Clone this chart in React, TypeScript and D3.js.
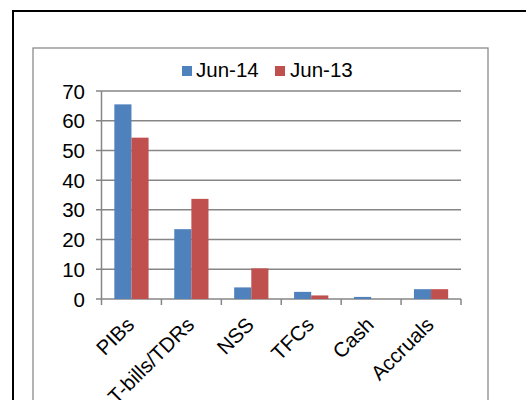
import React from "react";
import * as d3 from "d3";

const categories = ["PIBs", "T-bills/TDRs", "NSS", "TFCs", "Cash", "Accruals"];
const jun14 = [65.5, 23.5, 3.9, 2.4, 0.7, 3.3];
const jun13 = [54.3, 33.7, 10.3, 1.2, 0, 3.3];
const seriesNames = ["Jun-14", "Jun-13"];
const yTicks = [0, 10, 20, 30, 40, 50, 60, 70];

const colors = ["#4F81BD", "#C0504D"];
const FONT = "'Liberation Sans', Arial, sans-serif";

export default function App() {
  const W = 526, H = 400;
  const x = d3.scaleBand<string>().domain(categories).range([101.5, 461]).padding(0);
  const y = d3.scaleLinear().domain([0, 70]).range([299, 91]);
  const bw = x.bandwidth() / 3.5;
  const series = [jun14, jun13];
  const grid = "#868686";

  return (
    <svg width={W} height={H} style={{ position: "absolute", left: 0, top: 0 }} fontFamily={FONT}>
      <rect x={0} y={0} width={W} height={H} fill="#fff" />
      {/* outer border */}
      <rect x={13} y={11} width={W} height={H} fill="none" stroke="#000" strokeWidth={2} />
      {/* inner chart border */}
      <rect x={33} y={48} width={455} height={H} fill="none" stroke="#8c8c8c" strokeWidth={1.3} />
      {/* gridlines + y ticks */}
      {yTicks.map((t) => (
        <g key={t}>
          <line x1={96} x2={461} y1={y(t)} y2={y(t)} stroke={grid} strokeWidth={1.5} />
          <text x={85} y={y(t) + 7.5} textAnchor="end" fontSize={20.5} fill="#000">
            {t}
          </text>
        </g>
      ))}
      {/* y axis */}
      <line x1={101.5} x2={101.5} y1={y(70)} y2={y(0)} stroke={grid} strokeWidth={1.5} />
      {/* x ticks */}
      {[...categories.map((c) => x(c) as number), 461].map((tx, i) => (
        <line key={i} x1={tx} x2={tx} y1={y(0)} y2={y(0) + 6} stroke={grid} strokeWidth={1.5} />
      ))}
      {/* bars */}
      {categories.map((c, i) => (
        <g key={c}>
          {series.map((s, k) => {
            const bx = (x(c) as number) + 0.75 * bw + k * bw;
            const v = s[i];
            if (v <= 0) return null;
            return (
              <rect key={k} x={bx} y={y(v)} width={bw} height={y(0) - y(v)} fill={colors[k]} />
            );
          })}
        </g>
      ))}
      {/* x labels */}
      {categories.map((c) => {
        const cx = (x(c) as number) + x.bandwidth() / 2 + 4;
        const cy = 326;
        return (
          <text
            key={c}
            transform={`translate(${cx},${cy}) rotate(-45)`}
            textAnchor="end"
            fontSize={20.5}
            fill="#000"
          >
            {c}
          </text>
        );
      })}
      {/* legend */}
      <rect x={182} y={66} width={10} height={10} fill={colors[0]} />
      <text x={196} y={77} fontSize={20.5} fill="#000">{seriesNames[0]}</text>
      <rect x={275} y={66} width={10} height={10} fill={colors[1]} />
      <text x={290} y={77} fontSize={20.5} fill="#000">{seriesNames[1]}</text>
    </svg>
  );
}
